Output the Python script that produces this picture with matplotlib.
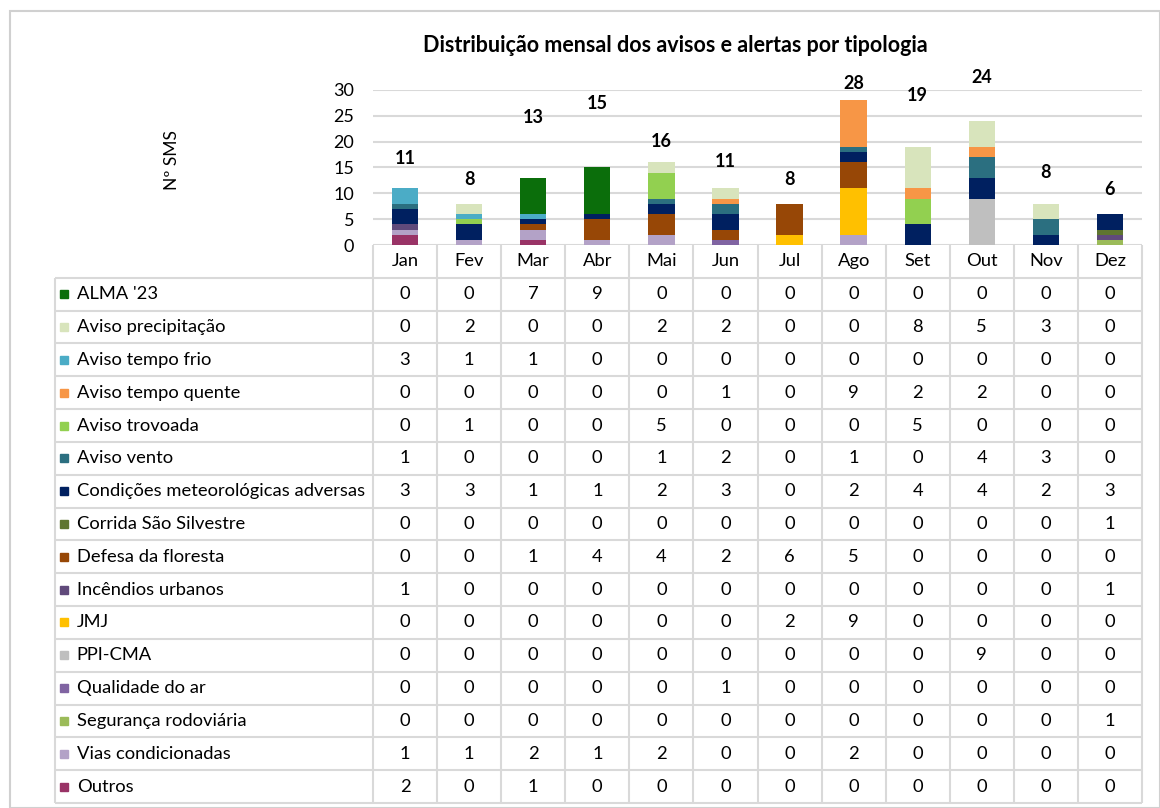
import matplotlib
matplotlib.use("Agg")
import matplotlib.pyplot as plt
import numpy as np
from matplotlib.patches import Rectangle

plt.rcParams['font.family'] = ['Lato', 'DejaVu Sans']

months = ['Jan', 'Fev', 'Mar', 'Abr', 'Mai', 'Jun', 'Jul', 'Ago', 'Set', 'Out', 'Nov', 'Dez']

categories = ["ALMA '23", 'Aviso precipitação', 'Aviso tempo frio', 'Aviso tempo quente',
              'Aviso trovoada', 'Aviso vento', 'Condições meteorológicas adversas',
              'Corrida São Silvestre', 'Defesa da floresta', 'Incêndios urbanos', 'JMJ',
              'PPI-CMA', 'Qualidade do ar', 'Segurança rodoviária', 'Vias condicionadas', 'Outros']

alma = [0, 0, 7, 9, 0, 0, 0, 0, 0, 0, 0, 0]
precipitacao = [0, 2, 0, 0, 2, 2, 0, 0, 8, 5, 3, 0]
tempo_frio = [3, 1, 1, 0, 0, 0, 0, 0, 0, 0, 0, 0]
tempo_quente = [0, 0, 0, 0, 0, 1, 0, 9, 2, 2, 0, 0]
trovoada = [0, 1, 0, 0, 5, 0, 0, 0, 5, 0, 0, 0]
vento = [1, 0, 0, 0, 1, 2, 0, 1, 0, 4, 3, 0]
cond_meteo = [3, 3, 1, 1, 2, 3, 0, 2, 4, 4, 2, 3]
corrida = [0, 0, 0, 0, 0, 0, 0, 0, 0, 0, 0, 1]
defesa_floresta = [0, 0, 1, 4, 4, 2, 6, 5, 0, 0, 0, 0]
incendios = [1, 0, 0, 0, 0, 0, 0, 0, 0, 0, 0, 1]
jmj = [0, 0, 0, 0, 0, 0, 2, 9, 0, 0, 0, 0]
ppi_cma = [0, 0, 0, 0, 0, 0, 0, 0, 0, 9, 0, 0]
qualidade_ar = [0, 0, 0, 0, 0, 1, 0, 0, 0, 0, 0, 0]
seg_rodoviaria = [0, 0, 0, 0, 0, 0, 0, 0, 0, 0, 0, 1]
vias_cond = [1, 1, 2, 1, 2, 0, 0, 2, 0, 0, 0, 0]
outros = [2, 0, 1, 0, 0, 0, 0, 0, 0, 0, 0, 0]

series = [alma, precipitacao, tempo_frio, tempo_quente, trovoada, vento, cond_meteo,
          corrida, defesa_floresta, incendios, jmj, ppi_cma, qualidade_ar,
          seg_rodoviaria, vias_cond, outros]

colors = ['#0b6e0b', '#d8e4bc', '#4bacc6', '#f79646', '#92d050', '#2b6f80', '#002060',
          '#5f7530', '#974706', '#604a7b', '#ffc000', '#bfbfbf', '#8064a2',
          '#9bbb59', '#b3a2c7', '#993366']

# where excel put the total labels (data units), they float oddly above the bars
total_label_y = [16.8, 12.6, 24.6, 27.3, 20.1, 16.1, 12.6, 31.3, 29.0, 32.5, 14.1, 10.8]

W, H = 1160, 808
fig = plt.figure(figsize=(W / 100, H / 100), dpi=100)

def px(x0, y0, x1, y1):
    return [x0 / W, 1 - y1 / H, (x1 - x0) / W, (y1 - y0) / H]

grid_c = '#d9d9d9'

# outer frame
fig.patches.append(Rectangle((10 / W, 0), (W - 10) / W, 1 - 11 / H, transform=fig.transFigure,
                             fill=False, edgecolor='#d0d0d0', lw=1.5))

fig.text(675 / W, 1 - 45 / H, 'Distribuição mensal dos avisos e alertas por tipologia',
         ha='center', va='center', fontsize=15.5, fontweight='bold')
fig.text(172 / W, 1 - 160 / H, 'Nº SMS', rotation=90, ha='center', va='center', fontsize=12.5)

# ---- stacked bars
ax = fig.add_axes(px(373, 90, 1142, 245))
x = np.arange(12) + 0.5
bottom = np.zeros(12)
for vals, col in zip(series[::-1], colors[::-1]):
    ax.bar(x, vals, 0.41, bottom=bottom, color=col, zorder=3)
    bottom += np.array(vals)
totals = bottom

for xi, t, ly in zip(x, totals, total_label_y):
    ax.text(xi, ly, f'{int(t)}', ha='center', va='center', fontsize=13,
            fontweight='bold', clip_on=False)

ax.set_xlim(0, 12)
ax.set_ylim(0, 30)
ax.set_yticks(range(0, 31, 5))
ax.set_xticks([])
ax.tick_params(axis='y', length=0, pad=13.5, labelsize=13)
ax.yaxis.grid(True, color=grid_c, lw=1.5, zorder=0)
for s in ax.spines.values():
    s.set_visible(False)

# ---- data table
tab = fig.add_axes(px(55, 245, 1142, 803))
lab_w = 318 / 64.08
nrows = len(categories)
tab.set_xlim(-lab_w, 12)
tab.set_ylim(nrows + 1, 0)
tab.axis('off')

lkw = dict(color=grid_c, lw=1.5, clip_on=False, solid_capstyle='butt')
for r in range(1, nrows + 2):
    tab.plot([-lab_w, 12], [r, r], **lkw)
tab.plot([-lab_w, -lab_w], [1, nrows + 1], **lkw)
for c in range(13):
    tab.plot([c, c], [0, nrows + 1], **lkw)

for j, m in enumerate(months):
    tab.text(j + 0.5, 0.5, m, ha='center', va='center', fontsize=13.2)

for i, (name, vals, col) in enumerate(zip(categories, series, colors)):
    yy = i + 1.5
    tab.plot(-lab_w + 0.14, yy, 's', color=col, markersize=6)
    tab.text(-lab_w + 0.34, yy, name, ha='left', va='center', fontsize=13.2)
    for j, v in enumerate(vals):
        tab.text(j + 0.5, yy, str(v), ha='center', va='center', fontsize=13.2)

fig.savefig('out.png', dpi=100)
